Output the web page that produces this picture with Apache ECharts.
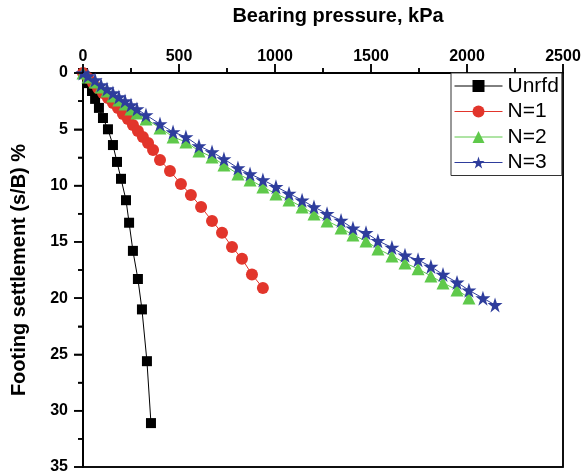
<!DOCTYPE html>
<html>
<head>
<meta charset="utf-8">
<script src="https://cdn.jsdelivr.net/npm/echarts@6/dist/echarts.min.js"></script>
<style>
  html, body { margin: 0; padding: 0; background: #fff; }
  #main { width: 588px; height: 475px; }
</style>
</head>
<body>
<div id="main"></div>
<script>
// bearing pressure (kPa) and settlement (%)
const pressureUnrfd = [0, 21, 47, 63, 83, 104, 130, 156, 177, 198, 224, 240, 260, 286, 307, 333, 354];
const settleUnrfd = [0, 0.9, 1.6, 2.3, 3.1, 4.0, 5.0, 6.4, 7.9, 9.4, 11.3, 13.3, 15.8, 18.3, 21.0, 25.6, 31.1];

const pressureN1 = [0, 26, 52, 78, 104, 130, 156, 182, 208, 234, 260, 286, 312, 339, 365, 401,
  453, 510, 562, 615, 672, 724, 776, 828, 880, 937];
const settleN1 = [0, 0.44, 0.89, 1.33, 1.78, 2.22, 2.66, 3.11, 3.64, 4.09, 4.62, 5.15, 5.68, 6.22, 6.84, 7.73,
  8.7, 9.86, 10.83, 11.9, 13.14, 14.2, 15.45, 16.5, 17.9, 19.1];

const pressureN2 = [0, 26, 63, 94, 125, 156, 187, 219, 250, 281, 328, 401, 469, 536, 604, 672, 734, 807,
  870, 937, 1005, 1073, 1141, 1203, 1271, 1344, 1406, 1474, 1536, 1609, 1677, 1745, 1812, 1875, 1948, 2010];
const settleN2 = [0, 0.36, 0.8, 1.24, 1.6, 2.04, 2.4, 2.75, 3.2, 3.55, 4.09, 4.88, 5.68, 6.13, 6.93, 7.46, 8.17, 8.97,
  9.5, 10.12, 10.74, 11.28, 11.9, 12.52, 13.14, 13.76, 14.39, 14.92, 15.63, 16.25, 16.87, 17.4, 18.03, 18.65, 19.27, 19.98];

const pressureN3 = [0, 26, 63, 94, 125, 156, 187, 219, 250, 281, 328, 401, 469, 536, 604, 672, 734, 807,
  870, 937, 1005, 1073, 1141, 1203, 1271, 1344, 1406, 1474, 1536, 1609, 1677, 1745, 1812, 1875, 1948, 2010, 2083, 2146];
const settleN3 = [0, 0.27, 0.62, 1.07, 1.42, 1.78, 2.13, 2.49, 2.84, 3.2, 3.73, 4.53, 5.24, 5.68, 6.48, 7.02, 7.64, 8.44,
  8.97, 9.5, 10.1, 10.7, 11.3, 11.9, 12.5, 13.1, 13.8, 14.2, 14.9, 15.5, 16.2, 16.6, 17.2, 17.9, 18.6, 19.3, 20.0, 20.6];

// axis ticks (major + minor)
const xMajor = [0, 500, 1000, 1500, 2000, 2500];
const xMinor = [250, 750, 1250, 1750, 2250];
const yMajor = [0, 5, 10, 15, 20, 25, 30, 35];
const yMinor = [2.5, 7.5, 12.5, 17.5, 22.5, 27.5, 32.5];

const FONT = "Arial, 'Liberation Sans', sans-serif";
const starPath = "path://M50,0 L61.2,34.5 L97.6,34.5 L68.2,55.9 L79.4,90.5 L50,69.1 L20.6,90.5 L31.8,55.9 L2.4,34.5 L38.8,34.5 Z";

function zip(xs, ys) {
  return xs.map((x, i) => [x, ys[i]]);
}

function makeSeries(name, xs, ys, color, symbol, size) {
  return {
    name: name,
    type: "line",
    data: zip(xs, ys),
    symbol: symbol,
    symbolSize: size,
    showAllSymbol: true,
    lineStyle: { color: color, width: 1 },
    itemStyle: { color: color },
    emphasis: { disabled: true }
  };
}

function mainAxis(extra) {
  return Object.assign({
    type: "value",
    nameLocation: "middle",
    axisLine: { show: true, lineStyle: { color: "#000", width: 1.8 } },
    axisTick: { show: true, length: 9, lineStyle: { color: "#000", width: 1.5 } },
    minorTick: { show: true, splitNumber: 2, length: 5, lineStyle: { color: "#000", width: 1.5 } },
    splitLine: { show: true, lineStyle: { color: "rgba(0,0,0,0)" } },
    axisLabel: { fontFamily: FONT, fontSize: 16, fontWeight: "bold", color: "#000", formatter: (v) => String(v) }
  }, extra);
}

const chart = echarts.init(document.getElementById("main"));

chart.setOption({
  animation: false,
  grid: { left: 83, right: 25, top: 73, bottom: 8, show: true, borderColor: "#000", borderWidth: 1.5 },
  legend: {
    left: 451, top: 73,
    orient: "vertical",
    backgroundColor: "#fff",
    borderColor: "#333",
    borderWidth: 1,
    padding: [2, 3, 2, 3],
    itemWidth: 48,
    itemHeight: 15,
    itemGap: 3.5,
    lineStyle: { width: 1 },
    textStyle: { fontFamily: FONT, fontSize: 21, color: "#000", lineHeight: 22 },
    data: ["Unrfd", "N=1", "N=2", "N=3"]
  },
  xAxis: mainAxis({
    position: "top",
    min: 0, max: 2500, interval: 500,
    name: "Bearing pressure, kPa",
    nameGap: 47,
    nameTextStyle: { fontFamily: FONT, fontSize: 20, fontWeight: "bold", color: "#000", padding: [0, 0, 0, 30] }
  }),
  yAxis: mainAxis({
    inverse: true,
    min: 0, max: 35, interval: 5,
    name: "Footing settlement (s/B) %",
    nameGap: 54,
    nameTextStyle: { fontFamily: FONT, fontSize: 20, fontWeight: "bold", color: "#000" }
  }),
  series: [
    makeSeries("Unrfd", pressureUnrfd, settleUnrfd, "#000000", "rect", 10),
    makeSeries("N=1", pressureN1, settleN1, "#e2352b", "circle", 12),
    makeSeries("N=2", pressureN2, settleN2, "#5fc94b", "triangle", 13),
    makeSeries("N=3", pressureN3, settleN3, "#2e3d9c", starPath, 15)
  ]
});
chart.setOption({ yAxis: { axisLabel: { margin: 15 } } });

// ticks and frame placed through the chart's own scales
const stroke = { stroke: "#000", lineWidth: 1.5 };
const px = (v) => chart.convertToPixel({ gridIndex: 0 }, v);
const topLeft = px([0, 0]);
const bottomRight = px([2500, 35]);
const marks = [];
function tickX(v, len) {
  const p = px([v, 0]);
  marks.push({ type: "line", silent: true, z: 10, shape: { x1: p[0], y1: topLeft[1], x2: p[0], y2: topLeft[1] - len }, style: stroke });
}
function tickY(v, len) {
  const p = px([0, v]);
  marks.push({ type: "line", silent: true, z: 10, shape: { x1: topLeft[0], y1: p[1], x2: topLeft[0] - len, y2: p[1] }, style: stroke });
}
xMajor.forEach((v) => tickX(v, 9));
xMinor.forEach((v) => tickX(v, 5));
yMajor.forEach((v) => tickY(v, 9));
yMinor.forEach((v) => tickY(v, 5));
marks.push({
  type: "rect", silent: true, z: 0,
  shape: { x: topLeft[0], y: topLeft[1], width: bottomRight[0] - topLeft[0], height: bottomRight[1] - topLeft[1] },
  style: { fill: null, stroke: "#000", lineWidth: 1.5 }
});
chart.setOption({ graphic: marks });
</script>
</body>
</html>
